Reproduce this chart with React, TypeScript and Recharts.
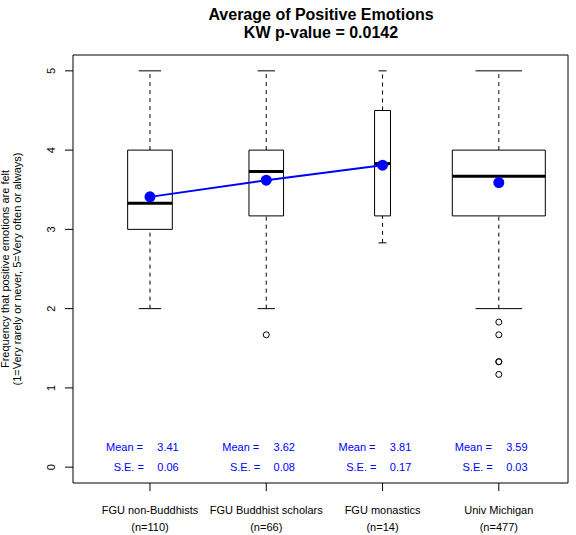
import { ComposedChart, ReferenceArea, ReferenceLine, Scatter, XAxis, YAxis } from "recharts";

const groups = ["FGU non-Buddhists", "FGU Buddhist scholars", "FGU monastics", "Univ Michigan"];
const counts = [110, 66, 14, 477];
const lowWhisker = [2, 2, 2.83, 2];
const lowerQuartile = [3, 3.17, 3.17, 3.17];
const medians = [3.33, 3.73, 3.83, 3.67];
const upperQuartile = [4, 4, 4.5, 4];
const highWhisker = [5, 5, 5, 5];
const means = [3.41, 3.62, 3.81, 3.59];
const stdErrors = [0.06, 0.08, 0.17, 0.03];
const outlierGroups = [2, 4, 4, 4, 4, 4];
const outlierValues = [1.67, 1.83, 1.67, 1.33, 1.33, 1.17];
const yTicks = [0, 1, 2, 3, 4, 5];
const xTicks = [1, 2, 3, 4];

const W = 576;
const H = 535;
const xDomain = [0.338, 4.595];
const yDomain = [-0.2, 5.2];
const font = "'Liberation Sans', Arial, sans-serif";
const blue = "#0000ff";

const maxCount = Math.max(...counts);
// R varwidth: box width proportional to sqrt(n)
const boxWidth = counts.map((n) => 0.8 * Math.sqrt(n / maxCount));

const meanPoints = means.map((m, i) => ({ x: i + 1, y: m }));
const outlierPoints = outlierGroups.map((g, i) => ({ x: g, y: outlierValues[i] }));

const statLabels = means.flatMap((m, i) => [
  { x: i + 1 - 0.06, y: 0.25, text: "Mean =", anchor: "end" },
  { x: i + 1 + 0.155, y: 0.25, text: m.toFixed(2), anchor: "middle" },
  { x: i + 1 - 0.052, y: 0, text: "S.E. =", anchor: "end" },
  { x: i + 1 + 0.155, y: 0, text: stdErrors[i].toFixed(2), anchor: "middle" }
]);

function GroupTick({ x, y, payload }: { x: number; y: number; payload: { value: number } }) {
  const i = Math.round(payload.value) - 1;
  return (
    <g>
      <text x={x} y={y + 23} textAnchor="middle" fontSize={11} fontFamily={font} fill="#000">
        {groups[i]}
      </text>
      <text x={x} y={y + 39.5} textAnchor="middle" fontSize={11} fontFamily={font} fill="#000">
        (n={counts[i]})
      </text>
    </g>
  );
}

function ValueTick({ x, y, payload }: { x: number; y: number; payload: { value: number } }) {
  const tx = x - 10;
  return (
    <text x={tx} y={y} transform={`rotate(-90, ${tx}, ${y})`} textAnchor="middle" fontSize={11} fontFamily={font} fill="#000">
      {payload.value}
    </text>
  );
}

function StatText(props: { cx?: number; cy?: number; payload?: { text: string; anchor: string } }) {
  const { cx = 0, cy = 0, payload } = props;
  return (
    <text x={cx} y={cy} dy="0.36em" textAnchor={payload?.anchor as "end" | "middle"} fontSize={11} fontFamily={font} fill={blue}>
      {payload?.text}
    </text>
  );
}

export default function App() {
  return (
    <div style={{ position: "absolute", left: 0, top: 0, width: W, height: H, background: "#fff" }}>
      <ComposedChart width={W} height={H} margin={{ top: 55, right: 8, bottom: 0, left: 0 }}>
        <XAxis
          type="number"
          dataKey="x"
          domain={xDomain}
          ticks={xTicks}
          allowDataOverflow
          axisLine={false}
          tickSize={8}
          tickMargin={0}
          tickLine={{ stroke: "#000" }}
          height={52}
          tick={GroupTick}
        />
        <YAxis
          type="number"
          domain={yDomain}
          ticks={yTicks}
          allowDataOverflow
          axisLine={false}
          tickSize={8}
          tickMargin={0}
          tickLine={{ stroke: "#000" }}
          width={73}
          tick={ValueTick}
        />
        <ReferenceArea x1={xDomain[0]} x2={xDomain[1]} y1={yDomain[0]} y2={yDomain[1]} fill="none" stroke="#000" strokeWidth={1} ifOverflow="visible" />

        {groups.map((g, i) => {
          const c = i + 1;
          const hw = boxWidth[i] / 2;
          return [
            <ReferenceLine key={`wu${g}`} segment={[{ x: c, y: upperQuartile[i] }, { x: c, y: highWhisker[i] }]} stroke="#000" strokeDasharray="4 4" ifOverflow="visible" />,
            <ReferenceLine key={`wl${g}`} segment={[{ x: c, y: lowWhisker[i] }, { x: c, y: lowerQuartile[i] }]} stroke="#000" strokeDasharray="4 4" ifOverflow="visible" />,
            <ReferenceLine key={`cu${g}`} segment={[{ x: c - hw / 2, y: highWhisker[i] }, { x: c + hw / 2, y: highWhisker[i] }]} stroke="#000" ifOverflow="visible" />,
            <ReferenceLine key={`cl${g}`} segment={[{ x: c - hw / 2, y: lowWhisker[i] }, { x: c + hw / 2, y: lowWhisker[i] }]} stroke="#000" ifOverflow="visible" />,
            <ReferenceArea key={`b${g}`} x1={c - hw} x2={c + hw} y1={lowerQuartile[i]} y2={upperQuartile[i]} fill="#fff" fillOpacity={1} stroke="#000" strokeWidth={1} ifOverflow="visible" />,
            <ReferenceLine key={`m${g}`} segment={[{ x: c - hw, y: medians[i] }, { x: c + hw, y: medians[i] }]} stroke="#000" strokeWidth={3} ifOverflow="visible" />
          ];
        })}

        <Scatter data={outlierPoints} dataKey="y" isAnimationActive={false} shape={(p: { cx?: number; cy?: number }) => <circle cx={p.cx} cy={p.cy} r={3} fill="none" stroke="#000" strokeWidth={1} />} />
        <Scatter data={meanPoints.slice(0, 3)} dataKey="y" isAnimationActive={false} line={{ stroke: blue, strokeWidth: 2 }} shape={() => <g />} />
        <Scatter data={meanPoints} dataKey="y" isAnimationActive={false} shape={(p: { cx?: number; cy?: number }) => <circle cx={p.cx} cy={p.cy} r={5.5} fill={blue} />} />
        <Scatter data={statLabels} dataKey="y" isAnimationActive={false} shape={StatText} />
      </ComposedChart>

      <svg width={W} height={H} style={{ position: "absolute", left: 0, top: 0, pointerEvents: "none" }}>
        <text x={321} y={20} textAnchor="middle" fontSize={16} fontWeight="bold" fontFamily={font}>
          Average of Positive Emotions
        </text>
        <text x={321} y={37.5} textAnchor="middle" fontSize={16} fontWeight="bold" fontFamily={font}>
          KW p-value = 0.0142
        </text>
        <text x={9} y={269} transform="rotate(-90, 9, 269)" textAnchor="middle" fontSize={11} fontFamily={font}>
          Frequency that positive emotions are felt
        </text>
        <text x={21} y={269} transform="rotate(-90, 21, 269)" textAnchor="middle" fontSize={11} fontFamily={font}>
          (1=Very rarely or never, 5=Very often or always)
        </text>
      </svg>
    </div>
  );
}
